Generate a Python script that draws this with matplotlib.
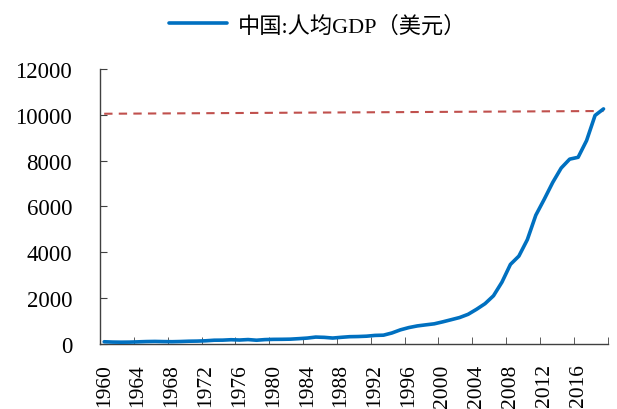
import numpy as np
import matplotlib
matplotlib.use("Agg")
import matplotlib.pyplot as plt
from matplotlib.ticker import FixedLocator

# ----------------------------- Data -----------------------------
years = list(range(1960, 2020))
gdp_per_capita = [
    89.5, 75.8, 70.9, 74.3, 85.5, 98.5, 104.3, 96.6, 91.5, 100.1,
    113.2, 118.7, 131.9, 157.1, 160.1, 178.3, 165.4, 185.4, 156.4, 183.9,
    194.8, 197.1, 203.3, 225.4, 250.7, 294.5, 281.9, 251.8, 283.5, 310.9,
    317.9, 333.1, 366.5, 377.4, 473.5, 609.7, 709.4, 781.7, 828.6, 873.3,
    959.4, 1053.1, 1148.5, 1288.6, 1508.7, 1753.4, 2099.2, 2693.9, 3468.3, 3832.2,
    4550.5, 5618.1, 6316.9, 7050.6, 7678.6, 8066.9, 8147.9, 8879.4, 9976.7, 10261.7,
]
ref_line = [10050, 10170]  # dashed guide, start / end value
series_label = "中国:人均GDP（美元）"
yticks = [0, 2000, 4000, 6000, 8000, 10000, 12000]

# ----------------------------- Plot -----------------------------
plt.rcParams["font.family"] = ["Liberation Serif", "Noto Sans CJK SC"]

fig = plt.figure(figsize=(6.17, 4.10), dpi=100)
ax = fig.add_axes([0.162, 0.159, 0.823, 0.670])

x = np.arange(len(years))
ax.plot(x, gdp_per_capita, color="#0070C0", lw=2.6, label=series_label,
        solid_capstyle="round", zorder=3)
ax.plot([x[0], x[-1]], ref_line, color="#C0504D", lw=1.5, ls=(0, (4, 3)), zorder=2)

ax.set_xlim(-0.5, len(years) - 0.5)
ax.set_ylim(0, 12000)
ax.set_yticks(yticks)
ax.set_yticklabels([str(v) for v in yticks], fontsize=16.5)

# labels every 4 years, tick marks on category boundaries
ax.set_xticks(x[::4])
ax.set_xticklabels([str(y) for y in years[::4]], rotation=90, fontsize=15.5)
ax.tick_params(axis="x", which="major", length=0, pad=14)
ax.xaxis.set_minor_locator(FixedLocator(np.arange(-0.5, len(years), 4)))
ax.tick_params(axis="x", which="minor", length=5, color="#404040", direction="in")
ax.tick_params(axis="y", length=5, color="#404040", direction="in", pad=20)

for s in ["top", "right"]:
    ax.spines[s].set_visible(False)
for s in ["left", "bottom"]:
    ax.spines[s].set_color("#404040")
    ax.spines[s].set_linewidth(1.0)

fig.legend(loc="upper center", bbox_to_anchor=(0.515, 1.01), frameon=False,
           fontsize=16, handlelength=2.6, handletextpad=0.5)

fig.savefig("out.png", dpi=100)
